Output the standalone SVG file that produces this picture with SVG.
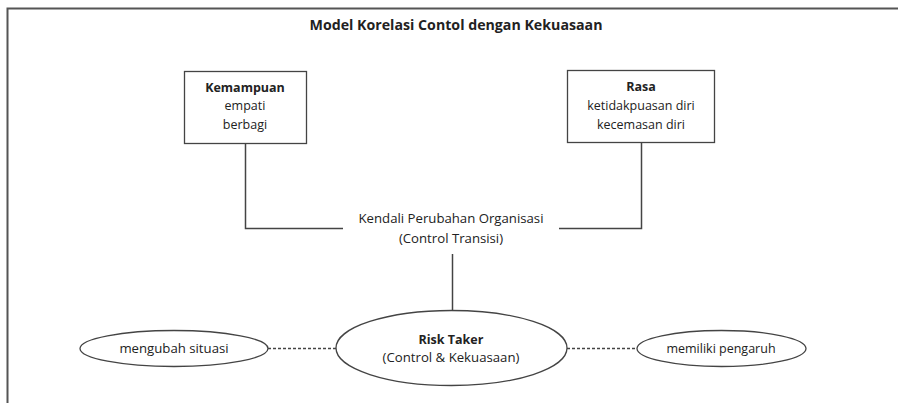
<svg xmlns="http://www.w3.org/2000/svg" width="898" height="403" viewBox="0 0 898 403">
  <style>
    text { font-family: "Open Sans", "Liberation Sans", sans-serif; fill: #222; text-anchor: middle; }
    .t { font-size: 12.5px; }
    .m { font-size: 13.2px; }
    .b { font-weight: bold; }
    .shape { fill: #fff; stroke: #444; stroke-width: 1.3; }
    .line { fill: none; stroke: #444; stroke-width: 1.5; }
    .dash { fill: none; stroke: #444; stroke-width: 1.3; stroke-dasharray: 3 2; }
  </style>
  <rect x="0" y="0" width="898" height="403" fill="#fff"/>
  <!-- frame -->
  <path d="M7.5 403 V8.5 H898" fill="none" stroke="#555" stroke-width="2"/>
  <text x="456" y="30" font-size="14.2" class="b">Model Korelasi Contol dengan Kekuasaan</text>

  <g id="connectors">
    <path class="line" d="M245.5 144 V228.5 H343"/>
    <path class="line" d="M641.5 142 V228.5 H559"/>
    <path class="line" d="M452.5 254 V311"/>
    <path class="dash" d="M268 348.5 H336"/>
    <path class="dash" d="M567 348.5 H637"/>
  </g>

  <g id="kemampuan">
    <rect class="shape" x="184.5" y="71.5" width="122" height="72"/>
    <text x="245" y="92" class="t b">Kemampuan</text>
    <text x="245" y="110" class="t">empati</text>
    <text x="245" y="129" class="t">berbagi</text>
  </g>

  <g id="rasa">
    <rect class="shape" x="567.5" y="70.5" width="147" height="72"/>
    <text x="641" y="91" class="t b">Rasa</text>
    <text x="641" y="110" class="t">ketidakpuasan diri</text>
    <text x="641" y="129" class="t">kecemasan diri</text>
  </g>

  <g id="kendali">
    <text x="451" y="223" class="m">Kendali Perubahan Organisasi</text>
    <text x="451" y="243" class="m">(Control Transisi)</text>
  </g>

  <g id="risk-taker">
    <ellipse class="shape" cx="451.5" cy="348" rx="115.5" ry="37.5"/>
    <text x="451" y="344" class="t b">Risk Taker</text>
    <text x="451" y="362" class="m">(Control &amp; Kekuasaan)</text>
  </g>

  <g id="mengubah-situasi">
    <ellipse class="shape" cx="174" cy="348.5" rx="94" ry="18"/>
    <text x="174" y="353" class="m">mengubah situasi</text>
  </g>

  <g id="memiliki-pengaruh">
    <ellipse class="shape" cx="721.5" cy="348.5" rx="84.5" ry="18"/>
    <text x="721" y="353" class="t">memiliki pengaruh</text>
  </g>
</svg>
